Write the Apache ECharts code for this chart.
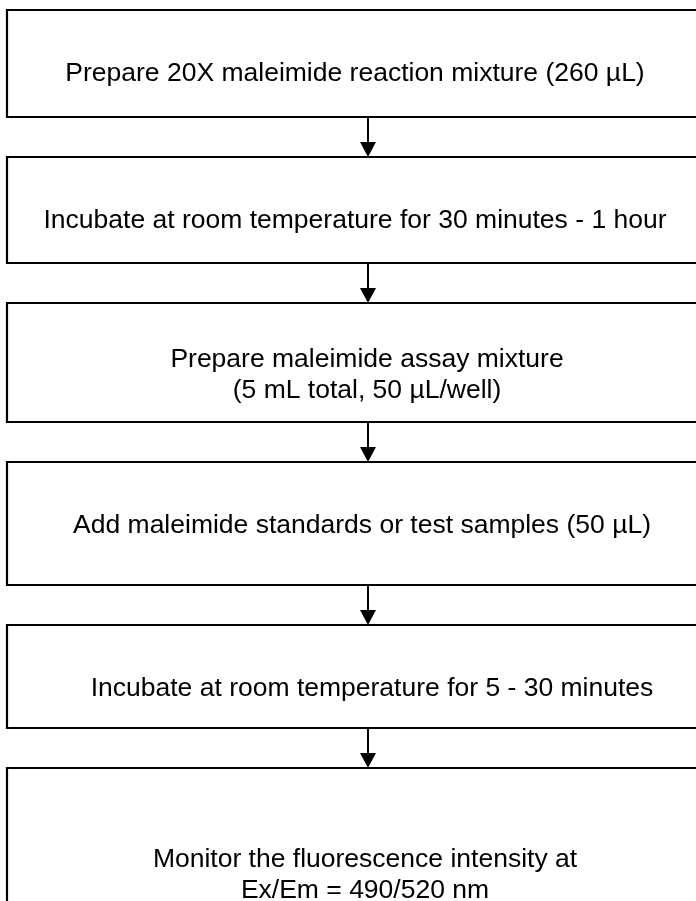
<!DOCTYPE html>
<html>
<head>
<meta charset="utf-8">
<script src="https://cdn.jsdelivr.net/npm/echarts@6/dist/echarts.min.js"></script>
<style>
html,body{margin:0;padding:0;background:#fff;}
#chart{width:696px;height:901px;}
</style>
</head>
<body>
<div id="chart"></div>
<script>
// Flowchart content
var steps = [
  "Prepare 20X maleimide reaction mixture (260 µL)",
  "Incubate at room temperature for 30 minutes - 1 hour",
  "Prepare maleimide assay mixture\n(5 mL total, 50 µL/well)",
  "Add maleimide standards or test samples (50 µL)",
  "Incubate at room temperature for 5 - 30 minutes",
  "Monitor the fluorescence intensity at\nEx/Em = 490/520 nm"
];

// Layout (pixels)
var boxTop = [10, 157, 303, 462, 625, 768];
var boxBottom = [117, 263, 422, 585, 728, 960];
var textCenterX = [355, 355, 367, 362, 372, 365];
var textCenterY = [74, 221, 375, 526, 689, 875];
var boxLeft = 7, boxRight = 720, arrowX = 368;

var chart = echarts.init(document.getElementById('chart'), null, {renderer: 'canvas'});
var elements = [];
steps.forEach(function (s, i) {
  elements.push({
    type: 'rect',
    shape: {x: boxLeft, y: boxTop[i], width: boxRight - boxLeft, height: boxBottom[i] - boxTop[i]},
    style: {fill: '#fff', stroke: '#000', lineWidth: 2.2}
  });
  elements.push({
    type: 'text',
    x: textCenterX[i], y: textCenterY[i],
    style: {
      text: s, fill: '#000',
      font: '26.5px "Liberation Sans", Arial, sans-serif',
      textAlign: 'center', textVerticalAlign: 'middle', lineHeight: 31
    }
  });
  if (i < steps.length - 1) {
    var y0 = boxBottom[i], y1 = boxTop[i + 1];
    elements.push({
      type: 'line',
      shape: {x1: arrowX, y1: y0, x2: arrowX, y2: y1 - 12},
      style: {stroke: '#000', lineWidth: 2}
    });
    elements.push({
      type: 'polygon',
      shape: {points: [[arrowX - 8, y1 - 15], [arrowX + 8, y1 - 15], [arrowX, y1]]},
      style: {fill: '#000'}
    });
  }
});
chart.setOption({animation: false, graphic: {elements: elements}});
</script>
</body>
</html>
